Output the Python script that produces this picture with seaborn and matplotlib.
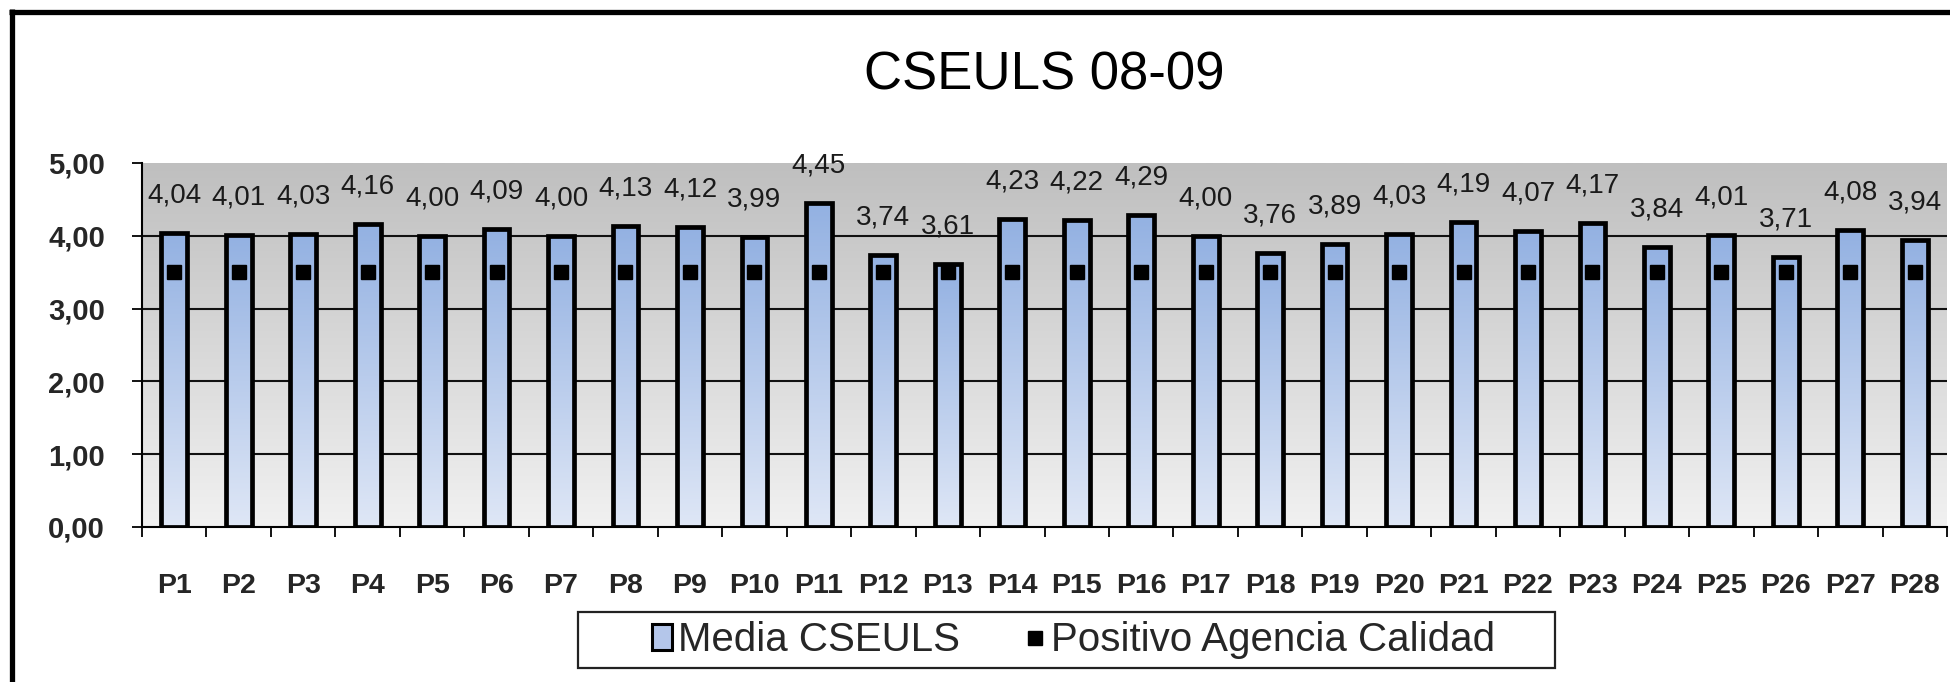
import numpy as np
import pandas as pd
import matplotlib
matplotlib.use("Agg")
import matplotlib.pyplot as plt
import seaborn as sns
from matplotlib.colors import LinearSegmentedColormap
from matplotlib.patches import Patch, Rectangle
from matplotlib.lines import Line2D

# ---- data ----
categories = [f"P{i}" for i in range(1, 29)]
media_cseuls = [4.04, 4.01, 4.03, 4.16, 4.00, 4.09, 4.00, 4.13, 4.12, 3.99,
                4.45, 3.74, 3.61, 4.23, 4.22, 4.29, 4.00, 3.76, 3.89, 4.03,
                4.19, 4.07, 4.17, 3.84, 4.01, 3.71, 4.08, 3.94]
positivo_agencia = [3.5] * 28
y_ticks = [0, 1, 2, 3, 4, 5]
y_tick_labels = ["0,00", "1,00", "2,00", "3,00", "4,00", "5,00"]
title = "CSEULS 08-09"
series_names = ["Media CSEULS", "Positivo Agencia Calidad"]

df = pd.DataFrame({"cat": categories, "media": media_cseuls, "pos": positivo_agencia})

sns.set_theme(style="white")
plt.rcParams["font.family"] = ["Liberation Sans", "DejaVu Sans"]

W, H = 1950, 682
fig = plt.figure(figsize=(W / 100, H / 100), dpi=100)
ax = fig.add_axes([142 / W, 1 - 527 / H, (1947 - 142) / W, (527 - 163) / H])

# plot-area gradient background
bg_cmap = LinearSegmentedColormap.from_list("bg", ["#f1f1f1", "#bfbfbf"])
grad = np.linspace(0, 1, 256).reshape(-1, 1)
ax.imshow(grad, extent=[-0.5, len(categories) - 0.5, 0, 5], origin="lower",
          aspect="auto", cmap=bg_cmap, zorder=0)

# horizontal grid lines
for yv in y_ticks[1:-1]:
    ax.axhline(yv, color="#111111", lw=1.5, zorder=1)

# bars
sns.barplot(data=df, x="cat", y="media", ax=ax, width=0.40, facecolor="none",
            edgecolor="black", linewidth=3.4, zorder=3, errorbar=None)
bar_cmap = LinearSegmentedColormap.from_list("bar", ["#dfe7f6", "#93b1e2"])
for p in ax.patches:
    x0, w, h = p.get_x(), p.get_width(), p.get_height()
    im = ax.imshow(grad, extent=[x0, x0 + w, 0, h], origin="lower", aspect="auto",
                   cmap=bar_cmap, zorder=2.5)
    im.set_clip_path(p)

# markers
xs = np.arange(len(categories))
ax.plot(xs, df["pos"], linestyle="none", marker="s", markersize=10,
        color="black", zorder=4)

# data labels
for x, v in zip(xs, df["media"]):
    ax.annotate(f"{v:.2f}".replace(".", ","), xy=(x, v), xytext=(0, 27),
                textcoords="offset points", ha="center", va="center",
                fontsize=20, color="#1a1a1a", zorder=5)

ax.set_xlim(-0.5, len(categories) - 0.5)
ax.set_ylim(0, 5)
ax.set_xlabel("")
ax.set_ylabel("")

ax.set_yticks(y_ticks)
ax.set_yticklabels(y_tick_labels, fontsize=21, fontweight="bold")
ax.set_xticks(xs)
ax.set_xticklabels(categories, fontsize=20.5, fontweight="bold")
ax.set_xticks(np.arange(-0.5, len(categories)), minor=True)
ax.tick_params(axis="x", which="major", length=0, pad=33)
ax.tick_params(axis="x", which="minor", length=7.5, width=1.3, color="black",
               direction="out", bottom=True)
ax.tick_params(axis="y", which="major", length=7.5, width=1.3, color="black",
               direction="out", left=True, pad=19)
for s in ["top", "right"]:
    ax.spines[s].set_visible(False)
for s in ["left", "bottom"]:
    ax.spines[s].set_color("black")
    ax.spines[s].set_linewidth(1.5)
    ax.spines[s].set_zorder(6)

# title
fig.text((142 + 1947) / 2 / W, 1 - 75 / H, title, ha="center", va="center",
         fontsize=38, color="black")

# legend
handles = [Patch(facecolor="#b4c6ea", edgecolor="black", linewidth=2.2),
           Line2D([], [], linestyle="none", marker="s", markersize=9.5, color="black")]
leg = fig.legend(handles, series_names, loc="center", ncol=2,
                 bbox_to_anchor=((645 + 1502) / 2 / W, 1 - 640 / H),
                 frameon=False, fontsize=29, handlelength=0.5, handleheight=0.6,
                 handletextpad=0.15, columnspacing=1.6, borderpad=0, borderaxespad=0)
fig.add_artist(Rectangle((578 / W, 1 - 668 / H), (1555 - 578) / W, (668 - 612) / H,
                         transform=fig.transFigure, facecolor="none",
                         edgecolor="#222222", linewidth=1.6))

# outer figure border (only top and left visible)
fig.add_artist(Line2D([11.5 / W, 11.5 / W], [0, 1 - 9 / H], transform=fig.transFigure,
                      color="black", lw=3.8, solid_capstyle="butt"))
fig.add_artist(Line2D([9 / W, 1], [1 - 12 / H, 1 - 12 / H], transform=fig.transFigure,
                      color="black", lw=3.8, solid_capstyle="butt"))

fig.savefig("out.png", dpi=100, facecolor="white")
